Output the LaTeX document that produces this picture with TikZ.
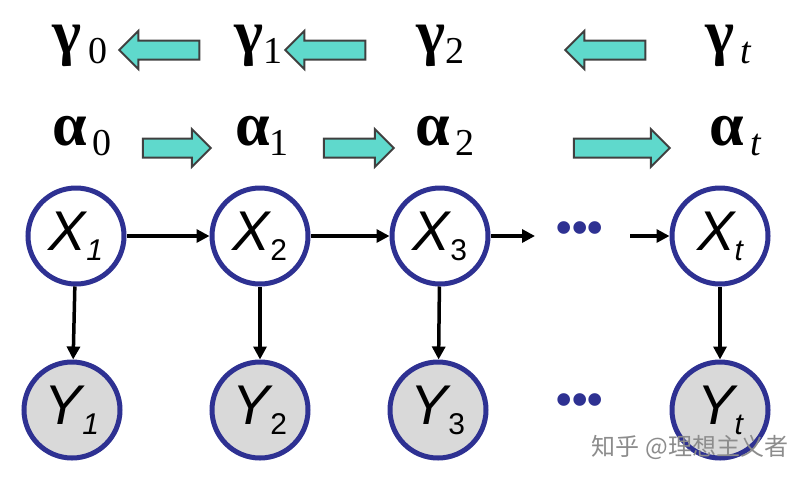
\documentclass[tikz,border=0pt]{standalone}
\usepackage{fontspec}
\setmainfont{Liberation Serif}
\setsansfont{Liberation Sans}
\newfontfamily\cjk{Noto Sans CJK SC}
\usetikzlibrary{shapes.arrows,arrows.meta}
\definecolor{nblue}{HTML}{2E3192}
\definecolor{teal2}{HTML}{5FD9CC}
\newcommand\gsub[2]{{\bfseries\fontsize{62}{62}\selectfont #1}{\mdseries\fontsize{38}{38}\selectfont\raisebox{-10pt}{#2}}}
\begin{document}
\begin{tikzpicture}[x=1pt,y=-1pt,
 xn/.style={circle,draw=nblue,line width=5pt,fill=white,minimum size=96pt,inner sep=0pt,font=\sffamily\itshape\fontsize{56}{56}\selectfont},
 yn/.style={xn,fill=black!15},
 ed/.style={line width=3.5pt,-{Triangle[length=13pt,width=13pt]}},
 blk/.style={single arrow,draw=black!75,line width=2pt,fill=teal2,minimum height=#1,minimum width=38pt,single arrow head extend=5pt,inner sep=4pt},
 dots/.style={text=nblue,font=\sffamily\bfseries\fontsize{44}{44}\selectfont}]
\useasboundingbox (0,0) rectangle (808,480);
\node (g0) at (80,46) {\gsub{γ}{\,0}};
\node (g1) at (258,46) {\gsub{γ}{1}};
\node (g2) at (440,46) {\gsub{γ}{2}};
\node (gt) at (728,46) {\gsub{γ}{\,\itshape t}};
\node (a0) at (82,136) {\gsub{α}{\,0}};
\node (a1) at (262,136) {\gsub{α}{1}};
\node (a2) at (445,136) {\gsub{α}{\,2}};
\node (at) at (735,136) {\gsub{α}{\,\itshape t}};
\node[blk=80pt,shape border rotate=180] (ga) at (164,50) {};
\node[blk=80pt,shape border rotate=180] (gb) at (330,50) {};
\node[blk=80pt,shape border rotate=180] (gc) at (610,50) {};
\node[blk=68pt] (aa) at (172,148) {};
\node[blk=70pt] (ab) at (354,148) {};
\node[blk=96pt] (ac) at (617,148) {};
\node[xn] (x1) at (76,236) {X\raisebox{-10pt}{\fontsize{30}{30}\selectfont 1}};
\node[xn] (x2) at (260,236) {X\raisebox{-10pt}{\fontsize{30}{30}\selectfont\upshape 2}};
\node[xn] (x3) at (440,236) {X\raisebox{-10pt}{\fontsize{30}{30}\selectfont\upshape 3}};
\node[xn] (xt) at (720,236) {X\raisebox{-10pt}{\fontsize{30}{30}\selectfont t}};
\node[yn] (y1) at (72,410) {Y\raisebox{-10pt}{\fontsize{30}{30}\selectfont 1}};
\node[yn] (y2) at (260,410) {Y\raisebox{-10pt}{\fontsize{30}{30}\selectfont\upshape 2}};
\node[yn] (y3) at (438,410) {Y\raisebox{-10pt}{\fontsize{30}{30}\selectfont\upshape 3}};
\node[yn] (yt) at (720,410) {Y\raisebox{-10pt}{\fontsize{30}{30}\selectfont t}};
\node[dots] (d1) at (580,232) {•••};
\node[dots] (d2) at (580,404) {•••};
\coordinate (c1) at (535,236);
\coordinate (c2) at (630,236);
\draw[ed] (x1) -- (x2);
\draw[ed] (x2) -- (x3);
\draw[ed] (x3) -- (c1);
\draw[ed] (c2) -- (xt);
\draw[ed] (x1) -- (y1);
\draw[ed] (x2) -- (y2);
\draw[ed] (x3) -- (y3);
\draw[ed] (xt) -- (yt);
\node[text=black!45,font=\cjk\fontsize{24}{24}\selectfont] (wm) at (690,447) {知乎 @理想主义者};
\end{tikzpicture}
\end{document}
